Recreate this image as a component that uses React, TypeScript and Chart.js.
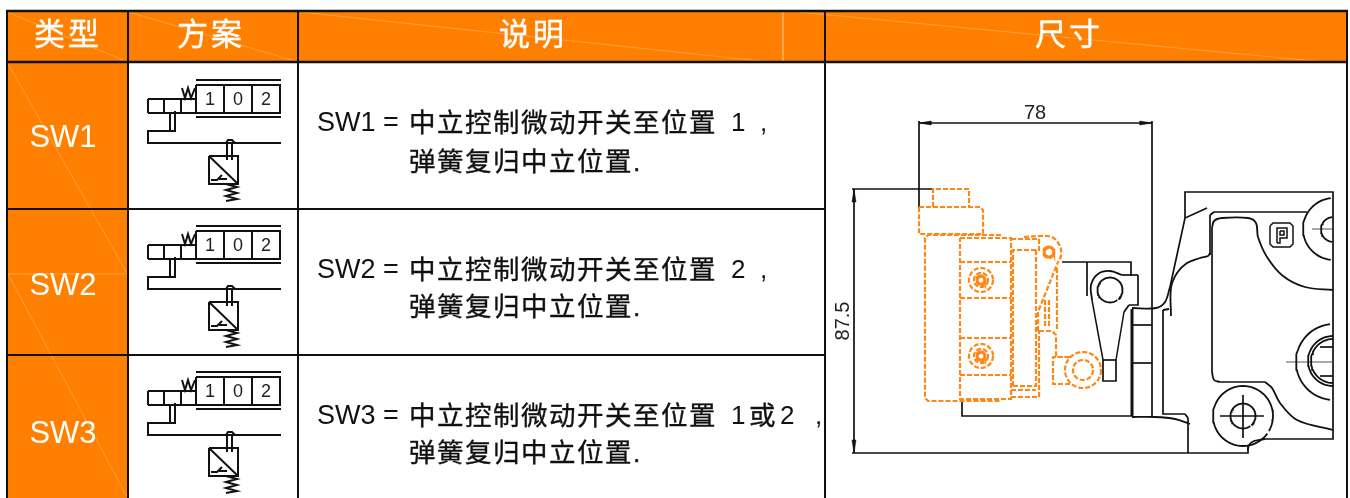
import React, { useEffect, useRef } from "react";
import { Chart, registerables } from "chart.js";
Chart.register(...registerables);

type P = [number, number];
const BLACK = "#111111";
const ORANGE = "#FF8000";
const DASH_ORANGE = "#FF8716";
const LATIN = '"Liberation Sans", "Noto Sans CJK SC", sans-serif';

// ---- table ----
const columnEdges = [7, 128, 298, 825, 1347];
const rowEdges = [11, 62, 209, 355, 498];
const headers = ["类型", "方案", "说明", "尺寸"];
const headerCentres = [68, 211, 533, 1069];
const types = ["SW1", "SW2", "SW3"];
const typeY = [138, 286, 434];
const firstLine = "中立控制微动开关至位置";
const positionDigits = ["1", "2", "1"];
const secondLine = "弹簧复归中立位置.";
const lineY1 = [125, 272, 418];
const lineY2 = [164, 309, 455];
const symbolOffsets = [0, 146, 292];
const faintLines: P[][] = [
  [[7, 12], [128, 62]],
  [[129, 12], [298, 62]],
  [[300, 12], [770, 62]],
  [[798, 12], [1325, 62]],
  [[783, 12], [783, 62]],
  [[7, 62], [127, 273]],
  [[8, 274], [127, 497]],
  [[8, 274], [127, 274]],
];

// ---- valve symbol (row one) ----
const symbolLines: P[][] = [
  [[196, 80], [281, 80]],
  [[196, 117], [281, 117]],
  [[196, 85], [280, 85], [280, 113], [196, 113], [196, 85]],
  [[224, 85], [224, 113]],
  [[252, 85], [252, 113]],
  [[148, 99], [196, 99]],
  [[148, 113], [196, 113]],
  [[148, 99], [148, 113]],
  [[164, 99], [164, 113]],
  [[181, 99], [181, 113]],
  [[170, 113], [170, 131]],
  [[175, 111], [175, 131], [148, 131], [148, 143], [281, 143]],
  [[182, 88], [185, 98], [188, 88], [191, 98], [195, 88]],
  [[226, 143], [228, 140], [232, 140], [235, 143]],
  [[227, 143], [227, 160]],
  [[232, 143], [232, 160]],
  [[209, 156], [238, 156], [238, 184], [209, 184], [209, 156]],
  [[209, 156], [238, 184]],
  [[211, 180], [217, 180], [222, 175]],
  [[219, 179], [227, 179]],
  [[226, 184], [237, 187], [226, 190], [237, 193], [226, 196], [237, 199], [226, 201]],
];
const symbolDigits = ["1", "0", "2"];
const digitCentres = [210, 238, 266];
const digitY = 100;

// ---- dimension drawing ----
const dimensionLines: P[][] = [
  [[919, 123], [1152, 123]],
  [[919, 121], [919, 208]],
  [[1152, 121], [1152, 417]],
  [[852, 189], [933, 189]],
  [[854, 189], [854, 453]],
  [[852, 453], [1248, 453], [1248, 446]],
];
const arrowHeads: P[][] = [
  [[919, 123], [931, 121], [931, 125]],
  [[1152, 123], [1140, 121], [1140, 125]],
  [[854, 189], [852, 202], [856, 202]],
  [[854, 453], [852, 440], [856, 440]],
];
const dimension78 = "78";
const dimension875 = "87.5";

const straightBlack: P[][] = [
  [[962, 400], [962, 416], [1132, 416]],
  [[1062, 262], [1131, 262], [1131, 276]],
  [[1087, 262], [1087, 296]],
  [[1138, 275], [1138, 305], [1129, 305]],
  [[1122, 275], [1138, 275]],
  [[1103, 360], [1116, 360]],
  [[1103, 360], [1103, 381], [1116, 381], [1116, 360]],
  [[1152, 325], [1132, 325]],
  [[1152, 363], [1132, 363]],
  [[1163, 310], [1163, 414], [1185, 414]],
  [[1188, 418], [1188, 453]],
  [[1185, 218], [1185, 192], [1333, 192], [1333, 439], [1265, 439]],
  [[1210, 255], [1210, 215]],
  [[1214, 212], [1307, 212]],
  [[1212, 228], [1212, 372]],
  [[1220, 382], [1265, 382]],
  [[1170, 287], [1185, 218], [1207, 208]],
  [[1220, 416], [1264, 416]],
  [[1243, 395], [1243, 438]],
  [[1320, 347], [1333, 347]],
  [[1320, 376], [1333, 376]],
];
const thickBlack: P[][] = [[[1132, 309], [1132, 416]]];
const curvedBlack: P[][] = [
  [[1132, 308], [1156, 308], [1165, 302], [1170, 287]],
  [[1163, 310], [1169, 309]],
  [[1132, 417], [1155, 417], [1175, 419], [1190, 424]],
  [[1171, 316], [1171, 288], [1177, 273], [1187, 263], [1200, 258], [1208, 256], [1210, 253]],
  [[1185, 414], [1188, 418]],
  [[1210, 215], [1214, 212]],
  [[1212, 228], [1214, 221], [1222, 218], [1248, 218], [1256, 223], [1258, 237], [1267, 257], [1283, 276], [1305, 287], [1333, 290]],
  [[1212, 372], [1214, 380], [1220, 382]],
  [[1265, 382], [1272, 388], [1280, 403], [1297, 420], [1333, 430]],
  [[1265, 439], [1254, 441], [1249, 445], [1248, 450]],
  [[1122, 275], [1110, 271], [1098, 274], [1091, 285], [1092, 300]],
  [[1124, 312], [1129, 305]],
];
const thinBlack: P[][] = [
  [[1092, 300], [1103, 360]],
  [[1124, 312], [1116, 360]],
  [[1270, 226], [1273, 223], [1290, 223], [1293, 226], [1293, 244], [1290, 247], [1273, 247], [1270, 244], [1270, 226]],
  [[1277, 243], [1277, 228], [1287, 228], [1287, 238], [1280, 238], [1280, 243], [1277, 243]],
  [[1280, 231], [1284, 231], [1284, 235], [1280, 235], [1280, 231]],
];
const greyCentreLines: P[][] = [
  [[1312, 229], [1333, 229]],
  [[1286, 362], [1333, 362]],
];
// centre x, centre y, radius, right-hand limit
const blackCircles: [number, number, number, number][] = [
  [1110, 290, 12.5, 1350],
  [1334, 229, 31, 1333],
  [1333.5, 229.5, 12.5, 1333],
  [1334, 362, 38, 1333],
  [1333, 361, 25, 1333],
  [1333, 361, 22, 1333],
  [1243, 416, 30, 1350],
  [1243, 416, 12.5, 1350],
];

const dashedLines: P[][] = [
  [[933, 207], [933, 189], [969, 189], [969, 207]],
  [[919, 207], [980, 207], [983, 210], [983, 234], [919, 234], [919, 207]],
  [[1001, 235], [928, 235], [925, 238], [925, 398], [928, 401], [1001, 401]],
  [[960, 238], [1011, 238], [1011, 399], [960, 399], [960, 238]],
  [[960, 262], [1011, 262]],
  [[960, 298], [1011, 298]],
  [[960, 338], [1011, 338]],
  [[960, 375], [1011, 375]],
  [[1011, 239], [1039, 239], [1039, 250], [1013, 250], [1013, 387]],
  [[1013, 386], [1036, 386], [1036, 250]],
  [[1011, 397], [1039, 397], [1039, 331]],
  [[1011, 390], [1036, 390]],
  [[1038, 331], [1038, 312], [1058, 262]],
  [[1045, 300], [1045, 328]],
  [[1049, 300], [1049, 328]],
  [[1039, 331], [1052, 331], [1056, 335], [1056, 357], [1070, 357]],
  [[1057, 268], [1057, 330]],
  [[1070, 357], [1053, 357], [1053, 384], [1070, 384]],
];
const dashedCurves: P[][] = [
  [[1024, 237], [1040, 236], [1052, 237], [1060, 246], [1061, 256], [1058, 262]],
];
const dashedCircles: [number, number, number][] = [
  [981, 280, 12], [981, 280, 7], [981, 280, 4],
  [981, 356, 12], [981, 356, 7], [981, 356, 4],
  [1049, 252, 5],
  [1083, 370, 18], [1083, 370, 10],
];

const circlePoints = (cx: number, cy: number, r: number, limit: number): P[] => {
  const out: P[] = [];
  for (let d = 0; d <= 360; d += 6) {
    const x = cx + r * Math.cos((d * Math.PI) / 180);
    const y = cy + r * Math.sin((d * Math.PI) / 180);
    if (x <= limit) out.push([x, y]);
  }
  return out;
};
const rotateForClip = (pts: P[]): P[] => {
  let cut = 0, best = 0;
  pts.forEach((p, i) => {
    const q = pts[(i + 1) % pts.length];
    const g = Math.hypot(p[0] - q[0], p[1] - q[1]);
    if (g > best) { best = g; cut = i + 1; }
  });
  return [...pts.slice(cut), ...pts.slice(0, cut)];
};

const toData = (pts: P[]) => pts.map(([x, y]) => ({ x, y }));
const mk = (pts: P[], color: string, width: number, extra: object = {}) => ({
  data: toData(pts),
  showLine: true,
  borderColor: color,
  borderWidth: width,
  backgroundColor: color,
  pointRadius: 0,
  pointHoverRadius: 0,
  tension: 0,
  fill: false,
  ...extra,
});

function buildDatasets() {
  const list: any[] = [];
  const [x0, x1, , x3, x4] = columnEdges;
  const [y0, y1, y2, y3, y4] = rowEdges;
  const rect = (a: number, b: number, c: number, d: number): P[] => [[a, b], [c, b], [c, d], [a, d], [a, b]];
  list.push(mk(rect(x0, y0, x4, y1), ORANGE, 0, { fill: "shape" }));
  list.push(mk(rect(x0, y1, x1, y4 + 4), ORANGE, 0, { fill: "shape" }));
  faintLines.forEach((l) => list.push(mk(l, "rgba(255,255,255,0.24)", 1)));
  columnEdges.forEach((x) => list.push(mk([[x, y0], [x, 500]], BLACK, 2)));
  [y0, y1].forEach((y) => list.push(mk([[x0 - 1, y], [x4 + 1, y]], BLACK, 2.4)));
  [y2, y3].forEach((y) => list.push(mk([[x0 - 1, y], [x3, y]], BLACK, 1.8)));
  symbolOffsets.forEach((dy) => {
    symbolLines.forEach((l) =>
      list.push(mk(l.map(([x, y]) => [x, y + dy] as P), BLACK, 2))
    );
  });
  dimensionLines.forEach((l) => list.push(mk(l, BLACK, 1.7)));
  arrowHeads.forEach((l) => list.push(mk([...l, l[0]], BLACK, 0.5, { fill: "shape" })));
  straightBlack.forEach((l) => list.push(mk(l, BLACK, 1.7)));
  thickBlack.forEach((l) => list.push(mk(l, BLACK, 3)));
  curvedBlack.forEach((l) => list.push(mk(l, BLACK, 1.8, { tension: 0.35 })));
  thinBlack.forEach((l) => list.push(mk(l, BLACK, 1.5)));
  greyCentreLines.forEach((l) => list.push(mk(l, "#555555", 1)));
  blackCircles.forEach(([cx, cy, r, lim]) =>
    list.push(mk(rotateForClip(circlePoints(cx, cy, r, lim)), BLACK, 1.8))
  );
  dashedLines.forEach((l) => list.push(mk(l, DASH_ORANGE, 2.2, { borderDash: [5, 2] })));
  dashedCurves.forEach((l) => list.push(mk(l, DASH_ORANGE, 2.2, { borderDash: [5, 2], tension: 0.35 })));
  dashedCircles.forEach(([cx, cy, r]) =>
    list.push(mk(circlePoints(cx, cy, r, 9999), DASH_ORANGE, r < 6 ? 3 : 2.2, { borderDash: r < 6 ? [] : [5, 2] }))
  );
  return list.reverse();
}

const textPlugin = {
  id: "tableText",
  afterDatasetsDraw(chart: any) {
    const { ctx, scales } = chart;
    const X = (v: number) => scales.x.getPixelForValue(v);
    const Y = (v: number) => scales.y.getPixelForValue(v);
    const put = (s: string, x: number, y: number, size: number, color: string, align: CanvasTextAlign = "left", spacing = 0, stroke = 0) => {
      ctx.font = `${size}px ${LATIN}`;
      ctx.fillStyle = color;
      ctx.strokeStyle = color;
      ctx.lineWidth = stroke;
      ctx.textAlign = align;
      ctx.textBaseline = "middle";
      (ctx as any).letterSpacing = `${spacing}px`;
      ctx.fillText(s, X(x), Y(y));
      if (stroke) ctx.strokeText(s, X(x), Y(y));
      (ctx as any).letterSpacing = "0px";
    };
    ctx.save();
    headers.forEach((h, i) => put(h, headerCentres[i], 36, 31, "#FFFFFF", "center", 3, 0.4));
    types.forEach((t, i) => put(t, 63, typeY[i], 31, "#FFFFFF", "center"));
    symbolOffsets.forEach((dy) => {
      symbolDigits.forEach((d, i) => put(d, digitCentres[i], digitY + dy, 18, "#222222", "center"));
    });
    types.forEach((t, i) => {
      put(`${t} =`, 317, lineY1[i] - 1, 27, "#111111");
      put(firstLine, 409, lineY1[i], 26.5, "#111111", "left", 1.5, 0.35);
      put(positionDigits[i], 731, lineY1[i] - 1, 26, "#111111");
      if (i === 2) {
        put("或", 749, lineY1[i], 26.5, "#111111", "left", 0, 0.35);
        put("2", 780, lineY1[i] - 1, 26, "#111111");
        put(",", 815, lineY1[i] - 1, 26, "#111111");
      } else {
        put(",", 760, lineY1[i] - 1, 26, "#111111");
      }
      put(secondLine, 409, lineY2[i], 26.5, "#111111", "left", 1.5, 0.35);
    });
    put(dimension78, 1035, 113, 20, "#222222", "center");
    ctx.save();
    ctx.translate(X(843), Y(321));
    ctx.rotate(-Math.PI / 2);
    ctx.font = `20px ${LATIN}`;
    ctx.fillStyle = "#222222";
    ctx.textAlign = "center";
    ctx.textBaseline = "middle";
    ctx.fillText(dimension875, 0, 0);
    ctx.restore();
    ctx.restore();
  },
};

export default function App() {
  const ref = useRef<HTMLCanvasElement>(null);
  useEffect(() => {
    document.body.style.margin = "0";
    document.body.style.background = "#ffffff";
    const chart = new Chart(ref.current!, {
      type: "scatter",
      data: { datasets: buildDatasets() },
      options: {
        animation: false,
        responsive: false,
        layout: { padding: 0 },
        plugins: { legend: { display: false }, tooltip: { enabled: false } },
        scales: {
          x: { type: "linear", min: 0, max: 1350, display: false },
          y: { type: "linear", min: 0, max: 498, reverse: true, display: false },
        },
      },
      plugins: [textPlugin],
    } as any);
    return () => chart.destroy();
  }, []);
  return <canvas ref={ref} width={1350} height={498} style={{ display: "block" }} />;
}
